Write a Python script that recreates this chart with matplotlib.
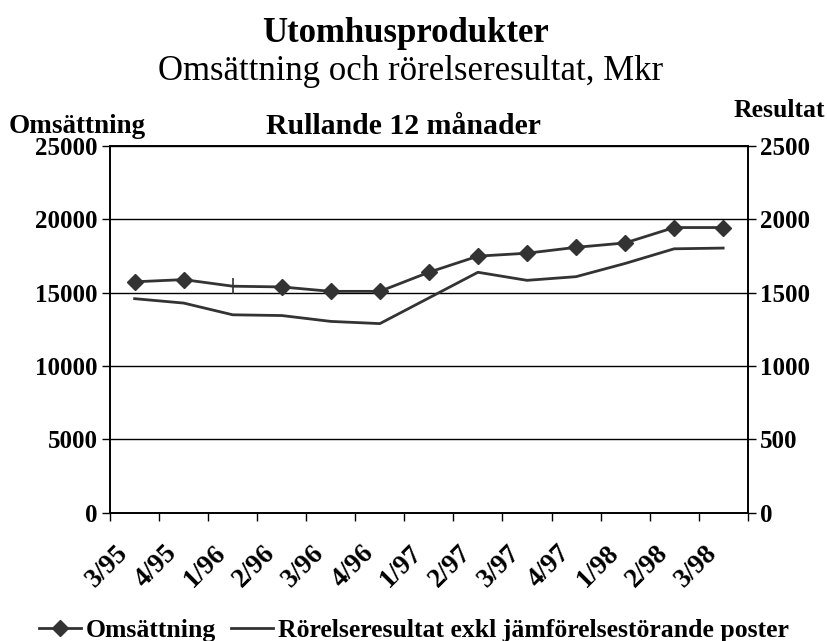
import matplotlib
matplotlib.use("Agg")
import matplotlib.pyplot as plt
from matplotlib.ticker import FixedLocator, NullFormatter
from matplotlib.transforms import ScaledTranslation

plt.rcParams['font.family'] = ['Liberation Serif', 'DejaVu Serif']

categories = ['3/95', '4/95', '1/96', '2/96', '3/96', '4/96', '1/97', '2/97',
              '3/97', '4/97', '1/98', '2/98', '3/98']
omsattning = [15750, 15900, 15450, 15400, 15100, 15100, 16400, 17500,
              17700, 18100, 18400, 19450, 19450]
resultat = [1460, 1430, 1350, 1345, 1305, 1290, 1465, 1640,
            1585, 1610, 1700, 1800, 1805]
left_ticks = [0, 5000, 10000, 15000, 20000, 25000]
right_ticks = [0, 500, 1000, 1500, 2000, 2500]

col = '#333333'
fig = plt.figure(figsize=(8.28, 6.41), dpi=100)
ax = fig.add_axes([0.133, 0.200, 0.770, 0.572])
ax2 = ax.twinx()

x = list(range(len(categories)))
marker_idx = [i for i in x if i != 2]
l1, = ax.plot(x, omsattning, color=col, lw=2.0, marker='D', markersize=8.5,
              markevery=marker_idx, label='Omsättning', zorder=3)
ax.plot([x[2]], [omsattning[2]], color=col, marker='|', markersize=11,
        markeredgewidth=1.2, linestyle='none', zorder=3)
l2, = ax2.plot(x, resultat, color=col, lw=2.0,
               label='Rörelseresultat exkl jämförelsestörande poster')

ax.set_xlim(-0.5, len(categories) - 0.5)
ax.set_ylim(0, 25000)
ax2.set_ylim(0, 2500)
ax.set_yticks(left_ticks)
ax2.set_yticks(right_ticks)
ax.set_yticklabels([str(v) for v in left_ticks], fontsize=18, fontweight='bold')
ax2.set_yticklabels([str(v) for v in right_ticks], fontsize=18, fontweight='bold')
for v in left_ticks:
    ax.axhline(v, color='black', lw=1.0, zorder=1)

ax.xaxis.set_major_locator(FixedLocator([i - 0.5 for i in range(len(categories) + 1)]))
ax.xaxis.set_major_formatter(NullFormatter())
ax.xaxis.set_minor_locator(FixedLocator(x))
ax.set_xticklabels(categories, minor=True, rotation=45, ha='right',
                   rotation_mode='anchor', fontsize=19.5, fontweight='bold')
ax.tick_params(axis='x', which='major', length=6, width=1, direction='out')
ax.tick_params(axis='x', which='minor', length=0, pad=12)
ax.tick_params(axis='y', length=6, width=1, direction='out', pad=3)
ax2.tick_params(axis='y', length=6, width=1, direction='out', pad=3)
offset = ScaledTranslation(-0.19, -0.11, fig.dpi_scale_trans)
for lbl in ax.xaxis.get_ticklabels(minor=True):
    lbl.set_transform(lbl.get_transform() + offset)

for a in (ax, ax2):
    for s in a.spines.values():
        s.set_linewidth(1.2)
        s.set_color('black')

fig.text(0.49, 0.948, 'Utomhusprodukter', ha='center', va='center',
         fontsize=25, fontweight='bold')
fig.text(0.496, 0.888, 'Omsättning och rörelseresultat, Mkr', ha='center',
         va='center', fontsize=25)
fig.text(0.487, 0.802, 'Rullande 12 månader', ha='center', va='center',
         fontsize=21.4, fontweight='bold')
fig.text(0.010, 0.803, 'Omsättning', ha='left', va='center',
         fontsize=19.5, fontweight='bold')
fig.text(0.997, 0.828, 'Resultat', ha='right', va='center',
         fontsize=18.5, fontweight='bold')

fig.legend([l1, l2], [l1.get_label(), l2.get_label()], loc='center',
           bbox_to_anchor=(0.5, 0.017), ncol=2, frameon=False,
           prop={'size': 18.5, 'weight': 'bold'}, handlelength=1.6,
           handletextpad=0.2, columnspacing=0.6, borderpad=0.1)

fig.savefig('out.png', dpi=100)
